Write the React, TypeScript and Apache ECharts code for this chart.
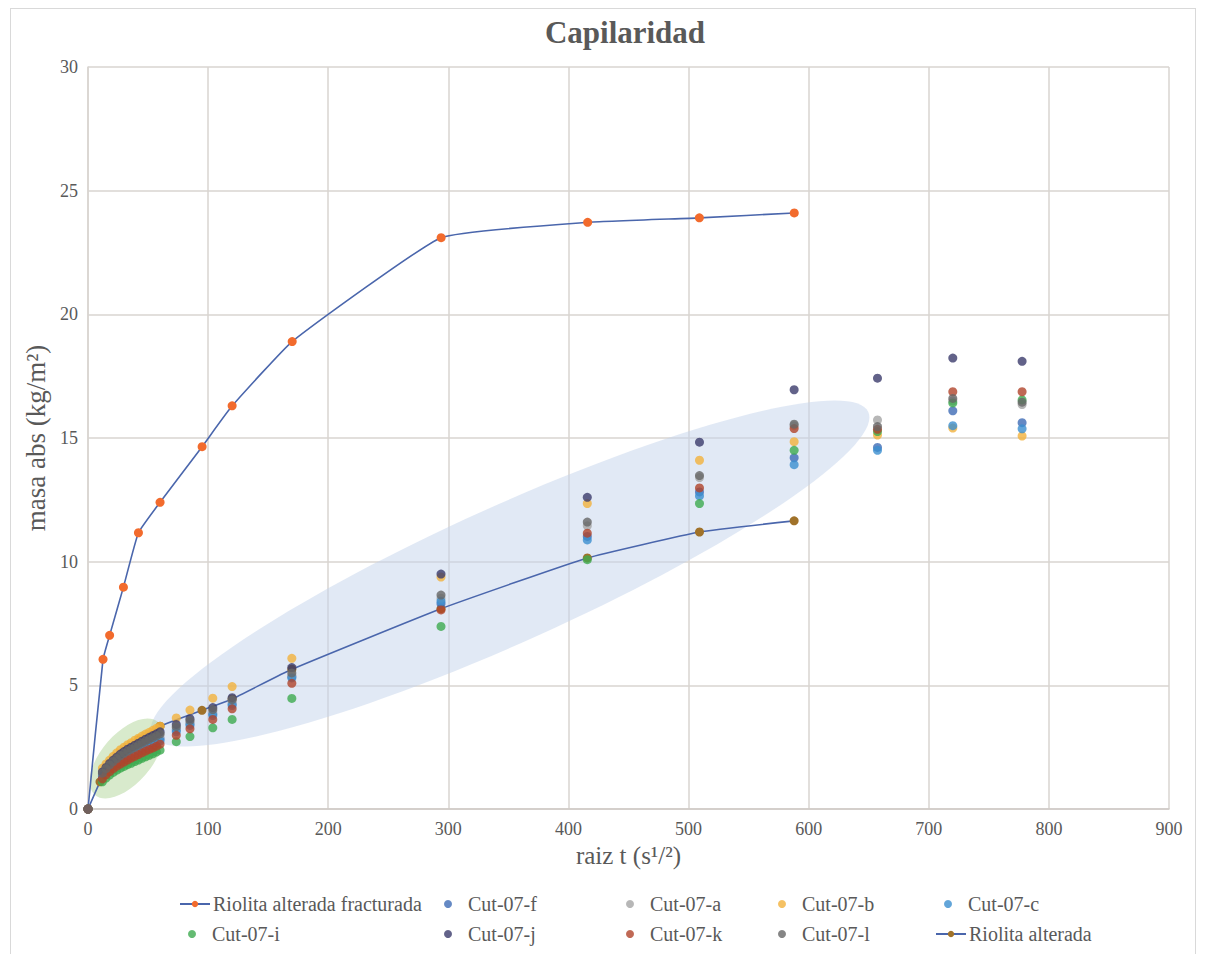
import React, { useEffect, useRef } from "react";
import * as echarts from "echarts";

// ---- data ----
const fracX = [0, 12.5, 18, 29.5, 42, 60, 95, 120, 170, 294, 416, 509, 588];
const fracY = [0, 6.05, 7.02, 8.97, 11.17, 12.4, 14.65, 16.3, 18.9, 23.1, 23.72, 23.9, 24.1];

const altX = [0, 10, 17.3, 30, 42.4, 60, 94.9, 120, 169.7, 293.9, 415.7, 509.1, 587.9];
const altY = [0, 1.1, 1.7, 2.3, 2.8, 3.35, 3.99, 4.45, 5.65, 8.1, 10.15, 11.2, 11.65];

const cutX = [0, 12, 15, 18, 21, 24, 27, 30, 33, 36, 39, 42, 45, 48, 51, 54, 57, 60, 73.5, 84.9, 103.9, 120, 169.7, 293.9, 415.7, 509.1, 587.9, 657.3, 720, 777.7];
const cut07f = [0, 1.35, 1.52, 1.66, 1.79, 1.9, 2.0, 2.1, 2.18, 2.26, 2.34, 2.41, 2.48, 2.55, 2.62, 2.69, 2.76, 2.84, 3.2, 3.45, 3.85, 4.25, 5.35, 8.3, 11.02, 12.82, 14.2, 14.62, 16.1, 15.62];
const cut07a = [0, 1.42, 1.6, 1.75, 1.88, 2.0, 2.11, 2.21, 2.3, 2.38, 2.46, 2.54, 2.62, 2.69, 2.76, 2.83, 2.9, 2.98, 3.28, 3.52, 3.95, 4.35, 5.4, 8.52, 11.45, 13.4, 15.5, 15.73, 16.5, 16.35];
const cut07b = [0, 1.65, 1.82, 1.98, 2.13, 2.27, 2.4, 2.5, 2.6, 2.68, 2.78, 2.86, 2.95, 3.03, 3.1, 3.18, 3.26, 3.35, 3.68, 4.0, 4.48, 4.95, 6.09, 9.38, 12.35, 14.1, 14.85, 15.12, 15.4, 15.08];
const cut07c = [0, 1.3, 1.47, 1.61, 1.73, 1.84, 1.94, 2.03, 2.11, 2.19, 2.26, 2.33, 2.4, 2.47, 2.54, 2.6, 2.67, 2.75, 3.12, 3.38, 3.78, 4.18, 5.3, 8.4, 10.88, 12.66, 13.92, 14.5, 15.5, 15.37];
const cut07i = [0, 1.1, 1.25, 1.37, 1.48, 1.57, 1.65, 1.72, 1.79, 1.85, 1.92, 1.98, 2.05, 2.11, 2.17, 2.23, 2.3, 2.38, 2.72, 2.93, 3.28, 3.62, 4.47, 7.38, 10.08, 12.35, 14.5, 15.26, 16.42, 16.54];
const cut07j = [0, 1.5, 1.68, 1.84, 1.98, 2.1, 2.22, 2.32, 2.42, 2.5, 2.58, 2.66, 2.74, 2.82, 2.9, 2.97, 3.04, 3.12, 3.42, 3.65, 4.1, 4.5, 5.72, 9.5, 12.6, 14.83, 16.95, 17.42, 18.23, 18.1];
const cut07k = [0, 1.22, 1.38, 1.51, 1.63, 1.73, 1.82, 1.9, 1.98, 2.06, 2.13, 2.2, 2.27, 2.34, 2.41, 2.47, 2.54, 2.62, 2.98, 3.24, 3.62, 4.05, 5.08, 8.05, 11.15, 12.98, 15.38, 15.35, 16.87, 16.87];
const cut07l = [0, 1.45, 1.63, 1.78, 1.92, 2.04, 2.16, 2.26, 2.35, 2.43, 2.51, 2.59, 2.67, 2.75, 2.82, 2.89, 2.96, 3.04, 3.33, 3.58, 4.02, 4.42, 5.5, 8.65, 11.6, 13.48, 15.56, 15.46, 16.6, 16.45];

const xTicks = [0, 900, 100]; // min, max, interval
const yTicks = [0, 30, 5];

// annotation ellipses: tips in data coordinates, half-width in px
const blueEllipseTips = [[53.3, 2.99], [649.5, 16.05]];
const greenEllipseTips = [[5.8, 0.57], [58.3, 3.52]];

const FONT = "'Liberation Serif', 'Times New Roman', serif";
const TXT = "#595959";
const LINE_BLUE = "#4A66AC";

const zip = (xs: number[], ys: number[]) => xs.map((x, i) => [x, ys[i]]);

export default function App() {
  const ref = useRef<HTMLDivElement>(null);
  useEffect(() => {
    document.body.style.overflow = "hidden";
    const chart = echarts.init(ref.current!, undefined, { renderer: "svg" });
    const scatter = (name: string, ys: number[], color: string) => ({
      name,
      type: "scatter",
      data: zip(cutX, ys),
      symbol: "circle",
      symbolSize: 9,
      itemStyle: { color },
      z: 3,
    });
    const lineSeries = (name: string, xs: number[], ys: number[], color: string) => ({
      name,
      type: "line",
      data: zip(xs, ys),
      symbol: "circle",
      symbolSize: 9,
      showSymbol: true,
      smooth: 0.12,
      lineStyle: { color: LINE_BLUE, width: 1.6 },
      itemStyle: { color, borderWidth: 0 },
      z: 3,
    });
    const lg = (name: string, left: number, top: number, isLine: boolean) => ({
      data: [name],
      left,
      top,
      padding: 0,
      itemWidth: isLine ? 30 : 8,
      itemHeight: 8,
      textStyle: {
        color: TXT,
        fontSize: 20,
        fontFamily: FONT,
        padding: isLine ? [0, 0, 0, -2] : [0, 0, 0, 11],
      },
      selectedMode: false,
    });
    const r1 = 885, r2 = 915;
    chart.setOption({
      animation: false,
      backgroundColor: "#ffffff",
      grid: { left: 77, right: 26, top: 58, bottom: 150, containLabel: false },
      xAxis: {
        type: "value",
        min: xTicks[0],
        max: xTicks[1],
        interval: xTicks[2],
        name: "raiz t (s¹/²)",
        nameLocation: "middle",
        nameGap: 33,
        nameTextStyle: { color: TXT, fontSize: 25, fontFamily: FONT },
        axisLine: { show: true, lineStyle: { color: "#cfcac6", width: 1.5 } },
        axisTick: { show: false },
        axisLabel: { color: TXT, fontSize: 18, fontFamily: FONT, margin: 11 },
        splitLine: { show: true, lineStyle: { color: "#d9d5d1", width: 1.5 } },
      },
      yAxis: {
        type: "value",
        min: yTicks[0],
        max: yTicks[1],
        interval: yTicks[2],
        name: "masa abs (kg/m²)",
        nameLocation: "middle",
        nameGap: 36,
        nameTextStyle: { color: TXT, fontSize: 27, fontFamily: FONT },
        axisLine: { show: true, lineStyle: { color: "#d9d5d1", width: 1.5 } },
        axisTick: { show: false },
        axisLabel: { color: TXT, fontSize: 18, fontFamily: FONT, margin: 10 },
        splitLine: { show: true, lineStyle: { color: "#d9d5d1", width: 1.5 } },
      },
      legend: [
        lg("Riolita alterada fracturada", 168, r1, true),
        lg("Cut-07-f", 433, r1, false),
        lg("Cut-07-a", 615, r1, false),
        lg("Cut-07-b", 767, r1, false),
        lg("Cut-07-c", 933, r1, false),
        lg("Cut-07-i", 177, r2, false),
        lg("Cut-07-j", 433, r2, false),
        lg("Cut-07-k", 615, r2, false),
        lg("Cut-07-l", 767, r2, false),
        lg("Riolita alterada", 924, r2, true),
      ],
      series: [
        lineSeries("Riolita alterada fracturada", fracX, fracY, "#F26B2D"),
        lineSeries("Riolita alterada", altX, altY, "#A0722A"),
        scatter("Cut-07-f", cut07f, "#3F6BB5"),
        scatter("Cut-07-a", cut07a, "#A5A5A5"),
        scatter("Cut-07-b", cut07b, "#F2B13C"),
        scatter("Cut-07-c", cut07c, "#3B8FD0"),
        scatter("Cut-07-i", cut07i, "#3DAA4F"),
        scatter("Cut-07-j", cut07j, "#3B3B6B"),
        scatter("Cut-07-k", cut07k, "#B0442A"),
        scatter("Cut-07-l", cut07l, "#666666"),
      ],
    });

    const ellipseFromTips = (tips: number[][], ry: number, fill: string) => {
      const p1 = chart.convertToPixel({ gridIndex: 0 }, tips[0]) as number[];
      const p2 = chart.convertToPixel({ gridIndex: 0 }, tips[1]) as number[];
      const cx = (p1[0] + p2[0]) / 2;
      const cy = (p1[1] + p2[1]) / 2;
      const rx = Math.hypot(p2[0] - p1[0], p2[1] - p1[1]) / 2;
      const rot = Math.atan2(p1[1] - p2[1], p2[0] - p1[0]);
      return {
        type: "ellipse",
        x: cx,
        y: cy,
        rotation: rot,
        shape: { cx: 0, cy: 0, rx, ry },
        style: { fill },
        silent: true,
        z: 1,
      };
    };

    chart.setOption({
      graphic: [
        {
          type: "text",
          x: 614,
          y: 23,
          style: {
            text: "Capilaridad",
            fill: TXT,
            font: `bold 31px ${FONT}`,
            textAlign: "center",
            textVerticalAlign: "middle",
          },
        },
        ellipseFromTips(blueEllipseTips, 68, "rgba(196,212,236,0.5)"),
        ellipseFromTips(greenEllipseTips, 25, "rgba(169,208,142,0.45)"),
      ],
    });

    return () => {
      chart.dispose();
    };
  }, []);

  return (
    <div
      style={{
        marginLeft: 2,
        width: 1184,
        height: 950,
        border: "1px solid #d9d9d9",
      }}
    >
      <div ref={ref} style={{ width: 1184, height: 950 }} />
    </div>
  );
}
